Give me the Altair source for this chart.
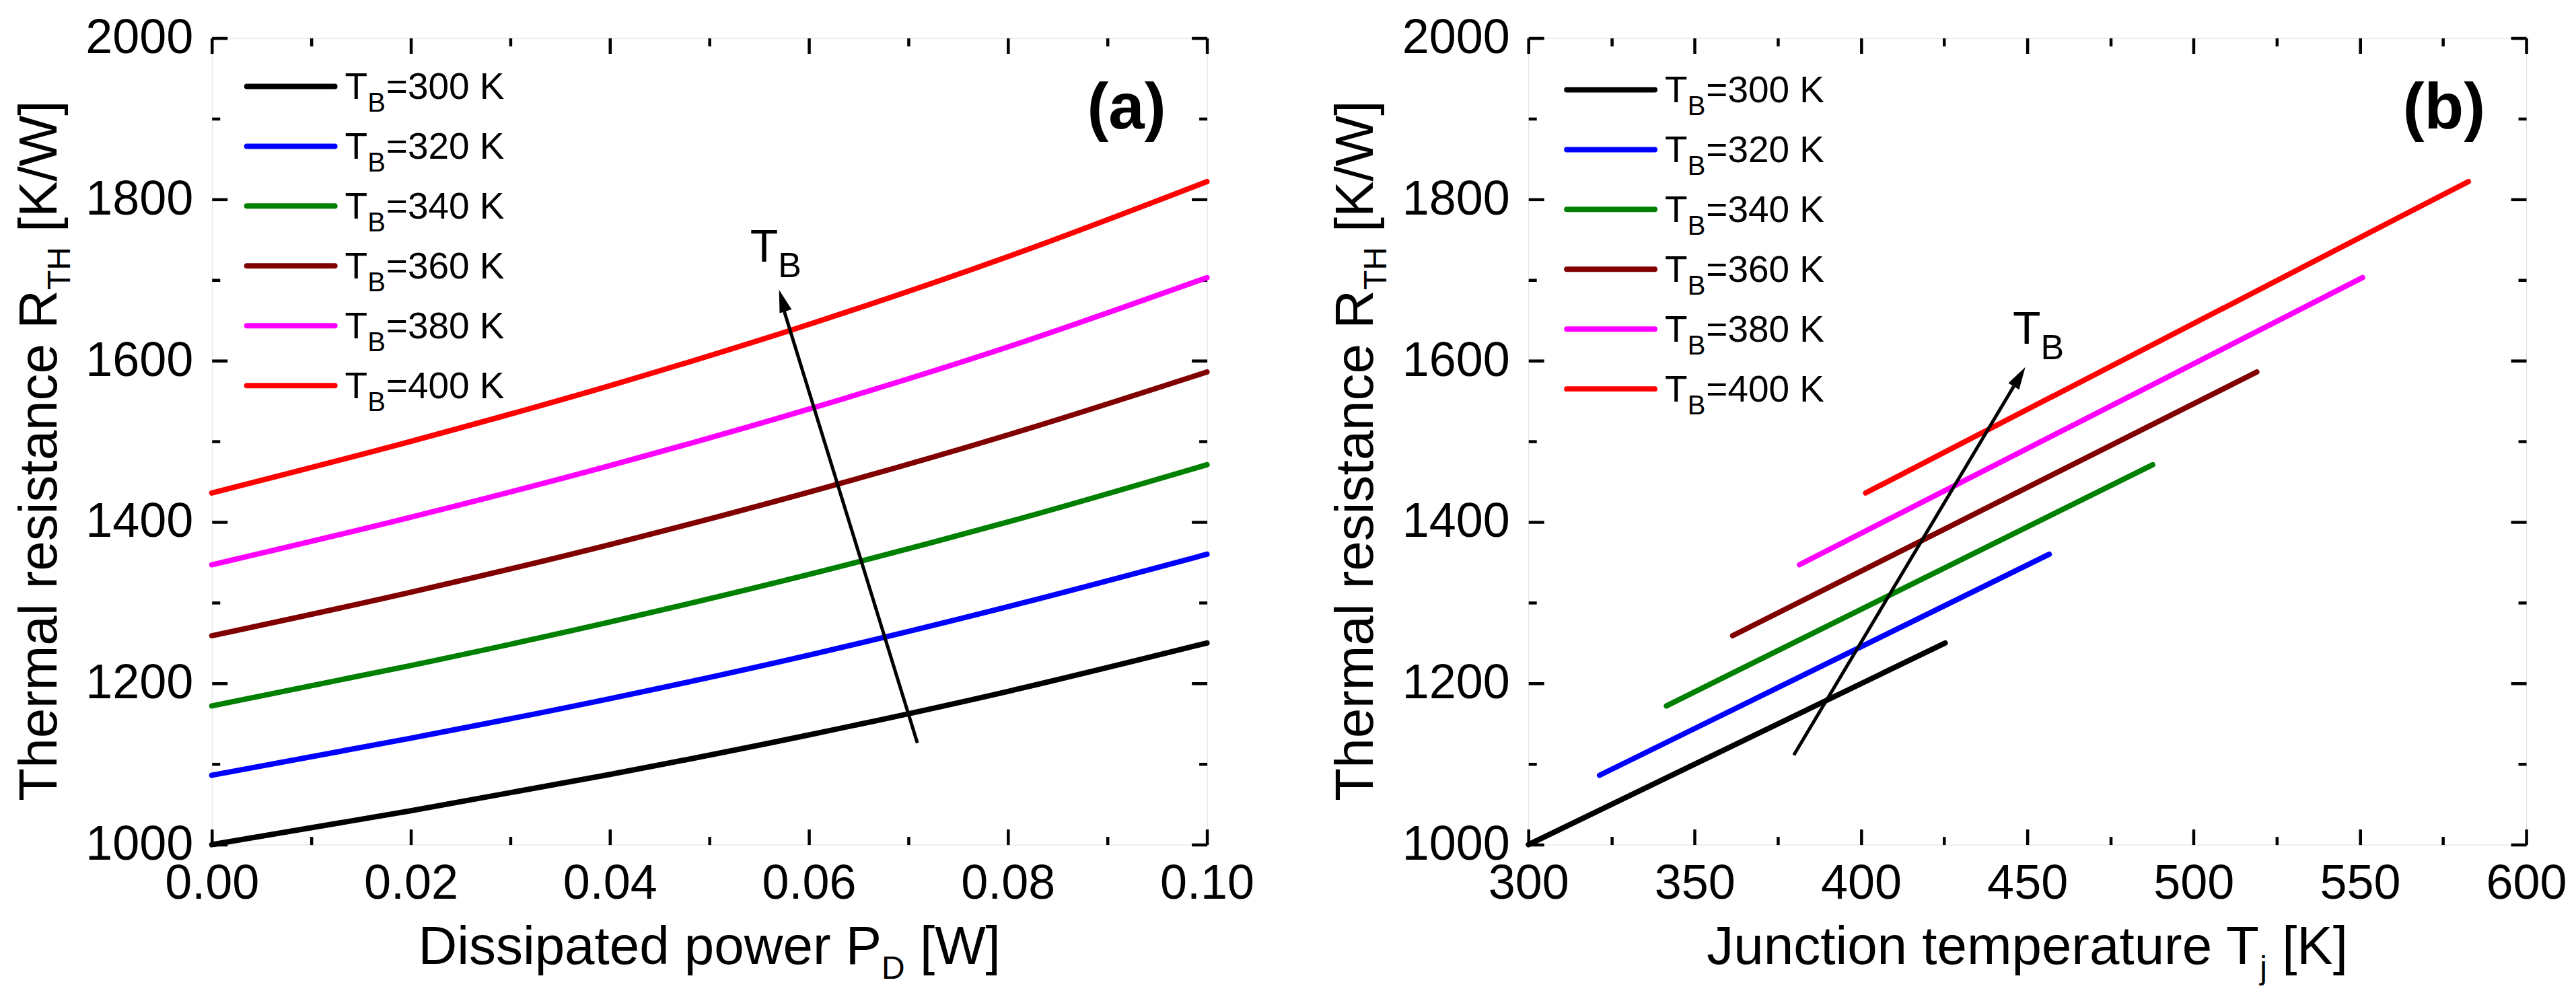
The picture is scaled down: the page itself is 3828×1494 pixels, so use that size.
import altair as alt
import pandas as pd

# ---------------- data ----------------
TB = ["300", "320", "340", "360", "380", "400"]
COLORS = ["#000000", "#0000ff", "#008000", "#800000", "#ff00ff", "#ff0000"]

# panel (a): R_TH vs dissipated power
P_D = [0.00, 0.02, 0.04, 0.06, 0.08, 0.10]
R_300 = [1000, 1042, 1087, 1136, 1190, 1250]
R_320 = [1086, 1132, 1181, 1235, 1295, 1360]
R_340 = [1172, 1222, 1276, 1335, 1400, 1471]
R_360 = [1259, 1313, 1372, 1437, 1508, 1586]
R_380 = [1347, 1406, 1470, 1540, 1617, 1703]
R_400 = [1436, 1500, 1569, 1645, 1729, 1822]
R_CURVES = [R_300, R_320, R_340, R_360, R_380, R_400]

# panel (b): R_TH vs junction temperature (straight segments)
TJ_START = [300.0, 321.4, 341.5, 361.4, 381.5, 401.4]
TJ_END = [425.3, 456.6, 487.7, 519.0, 550.8, 582.6]
RJ_START = [1000, 1086, 1172, 1259, 1347, 1436]
RJ_END = [1250, 1360, 1471, 1586, 1703, 1822]

# ticks
X_TICKS_A = [0.00, 0.02, 0.04, 0.06, 0.08, 0.10]
X_MINOR_A = [0.01, 0.03, 0.05, 0.07, 0.09]
X_TICKS_B = [300, 350, 400, 450, 500, 550, 600]
X_MINOR_B = [325, 375, 425, 475, 525, 575]
Y_TICKS = [1000, 1200, 1400, 1600, 1800, 2000]
Y_MINOR = [1100, 1300, 1500, 1700, 1900]

# arrows: tail, head base, tip
ARROW_A_X = [0.0709, 0.0575, 0.0570]
ARROW_A_Y = [1126, 1662, 1688]
ARROW_B_X = [379.8, 445.9, 449.4]
ARROW_B_Y = [1111, 1568, 1592]
ARROW_LABEL_A = [0.0541, 1723]
ARROW_LABEL_B = [445.6, 1621]

# ---------------- style ----------------
FONT = "Liberation Sans, Arial, Helvetica, sans-serif"
H = 1200
W_A = 1480
W_B = 1484
LINE_W = 8
TICK_W = 4.5
MAJOR_LEN = 23
MINOR_LEN = 12
HEAD = "M0,0L0.56,2L-0.56,2Z"

ARIAL = {' ': 278, '(': 333, ')': 333, '[': 278, ']': 278, '/': 278, '=': 584, '.': 278,
         'A': 667, 'B': 667, 'C': 722, 'D': 722, 'E': 667, 'F': 611, 'G': 778, 'H': 722,
         'I': 278, 'J': 500, 'K': 667, 'L': 556, 'M': 833, 'N': 722, 'O': 778, 'P': 667,
         'Q': 778, 'R': 722, 'S': 667, 'T': 611, 'U': 722, 'V': 667, 'W': 944, 'X': 667,
         'Y': 667, 'Z': 611, 'a': 556, 'b': 556, 'c': 500, 'd': 556, 'e': 556, 'f': 278,
         'g': 556, 'h': 556, 'i': 222, 'j': 222, 'k': 500, 'l': 222, 'm': 833, 'n': 556,
         'o': 556, 'p': 556, 'q': 556, 'r': 333, 's': 500, 't': 278, 'u': 556, 'v': 500,
         'w': 722, 'x': 500, 'y': 500, 'z': 500}


def tw(s, size):
    return sum(ARIAL.get(c, 556) for c in s) * size / 1000.0


color_scale = alt.Scale(domain=TB, range=COLORS)


def one(s):
    return alt.Data(values=[{"s": s}])


def txt(s, x, y, size, align="left", angle=0, weight="normal"):
    return alt.Chart(one(s)).mark_text(
        align=align, baseline="alphabetic", fontSize=size, angle=angle,
        fontWeight=weight, color="black", font=FONT
    ).encode(x=alt.value(x), y=alt.value(y), text="s:N")


def panel(df, xdom, W, xmaj, xmin, xfmt, ax, ay, lab, head_angle, plabel,
          xt_parts, yt_parts, leg_x0, leg_y0):
    xs = alt.Scale(domain=xdom, nice=False, zero=False)
    ys = alt.Scale(domain=[1000, 2000], nice=False, zero=False)

    lab_axis_x = alt.Axis(orient="bottom", values=xmaj, format=xfmt, labels=True,
                          ticks=False, tickSize=0, domain=False, grid=False, title=None,
                          labelFontSize=72, labelFont=FONT, labelColor="black",
                          labelPadding=23, labelFlush=False, labelOverlap=False)
    lab_axis_y = alt.Axis(orient="left", values=Y_TICKS, format="d", labels=True,
                          ticks=False, tickSize=0, domain=False, grid=False, title=None,
                          labelFontSize=72, labelFont=FONT, labelColor="black",
                          labelPadding=28, labelOverlap=False)

    lines = alt.Chart(df).mark_line(strokeWidth=LINE_W, interpolate="monotone",
                                    strokeCap="round").encode(
        x=alt.X("x:Q", scale=xs, axis=lab_axis_x),
        y=alt.Y("y:Q", scale=ys, axis=lab_axis_y),
        color=alt.Color("tb:N", scale=color_scale, legend=None),
        detail="tb:N",
    )

    def tick_layer(xo, yo, xv, yv, size):
        xa = alt.Axis(orient=xo, offset=-H, values=xv, labels=False, ticks=True,
                      tickSize=size, tickWidth=TICK_W, tickColor="black",
                      domain=False, grid=False, title=None)
        ya = alt.Axis(orient=yo, offset=-W, values=yv, labels=False, ticks=True,
                      tickSize=size, tickWidth=TICK_W, tickColor="black",
                      domain=False, grid=False, title=None)
        return alt.Chart(df).mark_point(opacity=0).encode(
            x=alt.X("x:Q", scale=xs, axis=xa), y=alt.Y("y:Q", scale=ys, axis=ya))

    t1 = tick_layer("top", "right", xmaj, Y_TICKS, MAJOR_LEN)
    t2 = tick_layer("top", "right", xmin, Y_MINOR, MINOR_LEN)
    t3 = tick_layer("bottom", "left", xmaj, Y_TICKS, MAJOR_LEN)
    t4 = tick_layer("bottom", "left", xmin, Y_MINOR, MINOR_LEN)

    # arrow
    shaft_df = pd.DataFrame({"x": ax[:2], "y": ay[:2]})
    shaft = alt.Chart(shaft_df).mark_line(color="black", strokeWidth=5).encode(
        x=alt.X("x:Q", scale=xs, axis=None), y=alt.Y("y:Q", scale=ys, axis=None))
    tip_df = pd.DataFrame({"x": [ax[2]], "y": [ay[2]]})
    head = alt.Chart(tip_df).mark_point(shape=HEAD, filled=True, color="black",
                                        opacity=1, size=1122, angle=head_angle,
                                        strokeWidth=0).encode(
        x=alt.X("x:Q", scale=xs, axis=None), y=alt.Y("y:Q", scale=ys, axis=None))
    lab_df = pd.DataFrame({"x": [lab[0]], "y": [lab[1]], "a": ["T"], "b": ["B"]})
    lab_t = alt.Chart(lab_df).mark_text(align="left", baseline="alphabetic", fontSize=68,
                                        color="black", font=FONT).encode(
        x=alt.X("x:Q", scale=xs, axis=None), y=alt.Y("y:Q", scale=ys, axis=None), text="a:N")
    lab_b = alt.Chart(lab_df).mark_text(align="left", baseline="alphabetic", fontSize=52,
                                        color="black", font=FONT, dx=tw("T", 68), dy=23).encode(
        x=alt.X("x:Q", scale=xs, axis=None), y=alt.Y("y:Q", scale=ys, axis=None), text="b:N")

    # legend
    rows = []
    for i, t in enumerate(TB):
        yrow = leg_y0 + 89 * i
        rows.append({"tb": t, "ypx": yrow, "ytxt": yrow + 19, "ysub": yrow + 38,
                     "T": "T", "B": "B", "rest": "=" + t + "\u00a0K"})
    leg_df = pd.DataFrame(rows)
    leg_line = alt.Chart(leg_df).mark_rule(strokeWidth=LINE_W, strokeCap="round").encode(
        x=alt.value(leg_x0), x2=alt.value(leg_x0 + 131),
        y=alt.Y("ypx:Q", scale=None, axis=None),
        color=alt.Color("tb:N", scale=color_scale, legend=None))
    tx0 = leg_x0 + 146
    leg_T = alt.Chart(leg_df).mark_text(align="left", baseline="alphabetic", fontSize=55,
                                        color="black", font=FONT).encode(
        x=alt.value(tx0), y=alt.Y("ytxt:Q", scale=None, axis=None), text="T:N")
    leg_B = alt.Chart(leg_df).mark_text(align="left", baseline="alphabetic", fontSize=40,
                                        color="black", font=FONT).encode(
        x=alt.value(tx0 + tw("T", 55)), y=alt.Y("ysub:Q", scale=None, axis=None), text="B:N")
    leg_R = alt.Chart(leg_df).mark_text(align="left", baseline="alphabetic", fontSize=55,
                                        color="black", font=FONT).encode(
        x=alt.value(tx0 + tw("T", 55) + tw("B", 40) + 1),
        y=alt.Y("ytxt:Q", scale=None, axis=None), text="rest:N")

    # x title with subscript (the gap before the bracket is added as an offset,
    # since leading spaces collapse in SVG text)
    m1, sb, m2 = xt_parts
    gap = tw(" ", 80)
    w1, w2, w3 = tw(m1, 80), tw(sb, 48), tw(m2, 80)
    x0 = W / 2 - (w1 + w2 + gap + w3) / 2
    xbase = H + 178
    xtitle = [txt(m1, x0, xbase, 80), txt(sb, x0 + w1, xbase + 22, 48),
              txt(m2, x0 + w1 + w2 + gap, xbase, 80)]

    # y title with subscript (rotated)
    n1, nb, n2 = yt_parts
    v1, v2, v3 = tw(n1, 80), tw(nb, 48), tw(n2, 80)
    ystart = H / 2 + 14 + (v1 + v2 + gap + v3) / 2
    ybase = -231
    ytitle = [txt(n1, ybase, ystart, 80, angle=270),
              txt(nb, ybase + 20, ystart - v1, 48, angle=270),
              txt(n2, ybase, ystart - v1 - v2 - gap, 80, angle=270)]

    plab = txt(plabel, W - 61, 135, 96, align="right", weight="bold")

    layers = [lines, t1, t2, t3, t4, shaft, head, lab_t, lab_b,
              leg_line, leg_T, leg_B, leg_R, plab] + xtitle + ytitle
    return alt.layer(*layers).resolve_axis(x="independent", y="independent").properties(
        width=W, height=H)


# build tables
rows_a = []
for t, rv in zip(TB, R_CURVES):
    for p, r in zip(P_D, rv):
        rows_a.append({"tb": t, "x": p, "y": r})
df_a = pd.DataFrame(rows_a)

rows_b = []
for t, x0, x1, y0, y1 in zip(TB, TJ_START, TJ_END, RJ_START, RJ_END):
    rows_b.append({"tb": t, "x": x0, "y": y0})
    rows_b.append({"tb": t, "x": x1, "y": y1})
df_b = pd.DataFrame(rows_b)

panel_a = panel(df_a, [0, 0.1], W_A, X_TICKS_A, X_MINOR_A, ".2f",
                ARROW_A_X, ARROW_A_Y, ARROW_LABEL_A, 343, "(a)",
                ("Dissipated power P", "D", "[W]"),
                ("Thermal resistance R", "TH", "[K/W]"), 52, 72)
panel_b = panel(df_b, [300, 600], W_B, X_TICKS_B, X_MINOR_B, "d",
                ARROW_B_X, ARROW_B_Y, ARROW_LABEL_B, 31, "(b)",
                ("Junction temperature T", "j", "[K]"),
                ("Thermal resistance R", "TH", "[K/W]"), 57, 77)

chart = alt.hconcat(panel_a, panel_b, spacing=111).properties(
    padding={"left": 11, "top": 11, "right": 5, "bottom": 5}
).configure_view(stroke="black", strokeWidth=5.5).configure(font=FONT, background="white")

chart.save("out.html", embed_options={"renderer": "svg", "actions": False})
